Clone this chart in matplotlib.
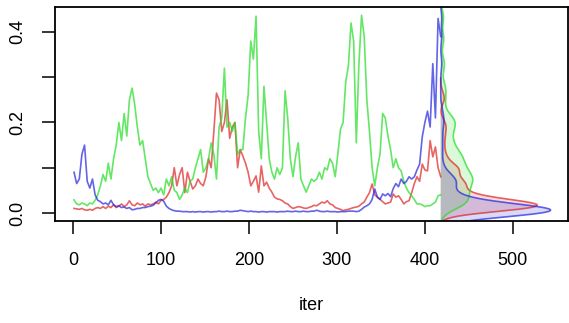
import numpy as np
import matplotlib
matplotlib.use("Agg")
import matplotlib.pyplot as plt

plt.rcParams['font.family'] = ['Liberation Sans', 'DejaVu Sans']

# trace values, one value every 3 iterations (1, 4, 7, ..., 418)
red = [0.010, 0.009, 0.008, 0.010, 0.007, 0.006, 0.008, 0.006, 0.010, 0.012,
       0.010, 0.014, 0.010, 0.015, 0.012, 0.018, 0.012, 0.015, 0.020, 0.014,
       0.018, 0.027, 0.018, 0.016, 0.022, 0.018, 0.020, 0.015, 0.020, 0.018,
       0.020, 0.024, 0.020, 0.028, 0.030, 0.035, 0.045, 0.060, 0.100, 0.060,
       0.085, 0.100, 0.045, 0.090, 0.070, 0.053, 0.060, 0.075, 0.065, 0.060,
       0.080, 0.120, 0.100, 0.180, 0.265, 0.250, 0.180, 0.200, 0.250, 0.165,
       0.190, 0.200, 0.100, 0.140, 0.126, 0.110, 0.090, 0.060, 0.070, 0.082,
       0.046, 0.104, 0.060, 0.068, 0.055, 0.046, 0.035, 0.031, 0.030, 0.027,
       0.022, 0.020, 0.014, 0.010, 0.012, 0.014, 0.013, 0.011, 0.010, 0.012,
       0.014, 0.017, 0.016, 0.020, 0.024, 0.022, 0.027, 0.020, 0.018, 0.012,
       0.010, 0.008, 0.005, 0.007, 0.008, 0.010, 0.012, 0.013, 0.015, 0.020,
       0.024, 0.035, 0.045, 0.064, 0.040, 0.035, 0.030, 0.025, 0.020, 0.022,
       0.024, 0.042, 0.035, 0.038, 0.030, 0.020, 0.025, 0.027, 0.045, 0.065,
       0.080, 0.070, 0.108, 0.095, 0.093, 0.160, 0.124, 0.146, 0.100, 0.080]

green = [0.029, 0.020, 0.018, 0.022, 0.020, 0.016, 0.022, 0.020, 0.028, 0.040,
         0.060, 0.085, 0.070, 0.110, 0.075, 0.120, 0.150, 0.200, 0.160, 0.220,
         0.170, 0.250, 0.276, 0.240, 0.190, 0.150, 0.160, 0.120, 0.080, 0.065,
         0.050, 0.055, 0.045, 0.055, 0.040, 0.075, 0.060, 0.080, 0.050, 0.045,
         0.030, 0.040, 0.055, 0.045, 0.070, 0.075, 0.100, 0.120, 0.140, 0.090,
         0.100, 0.120, 0.155, 0.130, 0.075, 0.190, 0.210, 0.320, 0.190, 0.200,
         0.180, 0.200, 0.130, 0.140, 0.140, 0.210, 0.260, 0.380, 0.340, 0.435,
         0.180, 0.120, 0.280, 0.200, 0.120, 0.090, 0.075, 0.100, 0.085, 0.100,
         0.270, 0.210, 0.120, 0.080, 0.125, 0.155, 0.075, 0.060, 0.046, 0.060,
         0.075, 0.070, 0.075, 0.090, 0.075, 0.100, 0.095, 0.120, 0.110, 0.080,
         0.130, 0.185, 0.200, 0.290, 0.325, 0.420, 0.380, 0.155, 0.330, 0.437,
         0.390, 0.250, 0.180, 0.100, 0.060, 0.100, 0.130, 0.220, 0.210, 0.170,
         0.140, 0.100, 0.120, 0.100, 0.093, 0.070, 0.055, 0.045, 0.038, 0.030,
         0.020, 0.020, 0.018, 0.014, 0.016, 0.016, 0.020, 0.024, 0.038, 0.040]

blue = [0.090, 0.065, 0.075, 0.130, 0.150, 0.070, 0.055, 0.075, 0.040, 0.028,
        0.025, 0.020, 0.022, 0.018, 0.028, 0.018, 0.014, 0.016, 0.012, 0.013,
        0.010, 0.012, 0.007, 0.008, 0.010, 0.010, 0.012, 0.012, 0.014, 0.015,
        0.017, 0.022, 0.028, 0.030, 0.026, 0.015, 0.010, 0.007, 0.005, 0.004,
        0.004, 0.003, 0.003, 0.003, 0.002, 0.003, 0.002, 0.003, 0.003, 0.002,
        0.003, 0.003, 0.002, 0.003, 0.003, 0.004, 0.003, 0.003, 0.004, 0.003,
        0.003, 0.004, 0.004, 0.006, 0.005, 0.004, 0.003, 0.004, 0.003, 0.003,
        0.002, 0.003, 0.003, 0.002, 0.003, 0.003, 0.003, 0.002, 0.003, 0.003,
        0.003, 0.004, 0.003, 0.003, 0.004, 0.003, 0.003, 0.004, 0.003, 0.003,
        0.004, 0.004, 0.006, 0.004, 0.003, 0.003, 0.004, 0.003, 0.003, 0.003,
        0.002, 0.003, 0.003, 0.003, 0.004, 0.004, 0.004, 0.003, 0.004, 0.008,
        0.013, 0.016, 0.020, 0.030, 0.053, 0.035, 0.030, 0.042, 0.038, 0.043,
        0.036, 0.054, 0.065, 0.058, 0.075, 0.065, 0.070, 0.080, 0.075, 0.080,
        0.095, 0.108, 0.168, 0.200, 0.225, 0.190, 0.330, 0.210, 0.430, 0.390]

chains = [red, green, blue]
colors = ['#DD2222', '#22DD22', '#2222DD']
bandwidths = [0.011, 0.015, 0.0135]


def kde(values, bw, n=512, cut=3):
    # gaussian kernel density on a grid extended by cut * bw
    v = np.asarray(values)
    grid = np.linspace(v.min() - cut * bw, v.max() + cut * bw, n)
    d = np.exp(-0.5 * ((grid[:, None] - v[None, :]) / bw) ** 2).sum(axis=1)
    return grid, d / (len(v) * bw * np.sqrt(2 * np.pi))


fig = plt.figure(figsize=(5.69, 3.23), dpi=100)
ax = fig.add_axes([0.0967, 0.316, 0.9013, 0.662])

last_iter = 0
for vals, col in zip(chains, colors):
    iters = 1 + 3 * np.arange(len(vals))
    ax.plot(iters, vals, color=col, alpha=0.7, lw=1.2)
    last_iter = max(last_iter, iters[-1])

dens = [kde(v, bw) for v, bw in zip(chains, bandwidths)]
width = 125.0 / max(d.max() for _, d in dens)
for (grid, d), col in zip(dens, colors):
    ax.fill_betweenx(grid, last_iter, last_iter + d * width,
                     facecolor=col, alpha=0.17, edgecolor='none')
    ax.plot(last_iter + d * width, grid, color=col, alpha=0.7, lw=1.2)

ax.set_xlim(-20.6, 562.6)
ax.set_ylim(-0.0176, 0.455)
ax.set_xticks([0, 100, 200, 300, 400, 500])
ax.set_yticks([0.0, 0.1, 0.2, 0.3, 0.4])
ax.set_yticklabels(['0.0', '', '0.2', '', '0.4'], rotation=90, va='center')
ax.tick_params(length=9.5, width=1.1, labelsize=13, direction='out')
ax.tick_params(axis='x', pad=13)
ax.tick_params(axis='y', pad=11)
for s in ax.spines.values():
    s.set_linewidth(1.3)
ax.set_xlabel('iter', fontsize=13, labelpad=20)

fig.savefig('out.png', dpi=100)
